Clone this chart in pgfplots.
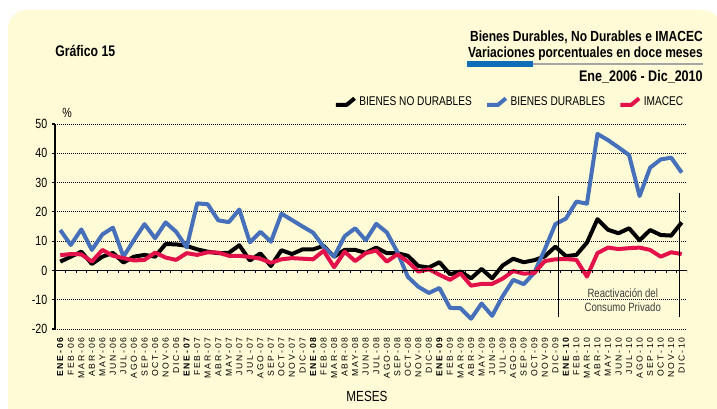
\documentclass[border=0pt]{standalone}
\usepackage{fontspec}
\setmainfont{Liberation Sans}
\newfontfamily\cond[FakeStretch=0.8]{Liberation Sans}
\newfontfamily\condt[FakeStretch=0.82]{Liberation Sans}
\newfontfamily\mfont[LetterSpace=20]{Liberation Sans}
\usepackage{pgfplots}
\pgfplotsset{compat=1.18}
\definecolor{bgyellow}{HTML}{FFFBD7}
\definecolor{durable}{HTML}{4670B9}
\definecolor{imacec}{HTML}{E3124B}
\definecolor{barblue}{HTML}{0F6CB6}

% i = month index (0 = Ene 2006), nd = no durables, d = durables, im = IMACEC
\pgfplotstableread{
i nd d im
0 3.0 13.8 5.2
1 4.7 8.7 5.6
2 6.4 14.0 5.5
3 2.2 7.0 3.0
4 4.7 12.3 7.0
5 6.0 14.6 5.0
6 2.7 4.7 4.2
7 4.7 10.4 3.4
8 5.3 15.8 3.6
9 4.7 11.0 6.1
10 9.0 16.4 4.4
11 8.9 13.2 3.6
12 8.4 7.9 5.9
13 7.2 22.9 5.3
14 6.4 22.6 6.2
15 5.9 17.1 6.1
16 6.0 16.5 5.0
17 8.6 20.8 5.0
18 3.4 9.6 4.6
19 5.8 13.2 4.0
20 1.5 9.8 2.6
21 6.9 19.4 3.8
22 5.6 17.2 4.2
23 7.2 15.0 4.0
24 7.2 12.9 3.8
25 8.4 8.1 6.7
26 4.7 4.7 1.1
27 7.0 11.7 6.4
28 7.0 14.4 3.2
29 6.0 10.3 5.9
30 7.8 15.9 6.8
31 5.9 13.0 3.0
32 5.9 6.3 5.5
33 5.0 -2.2 3.0
34 1.5 -5.6 -0.4
35 1.0 -7.7 0.4
36 2.8 -6.0 -1.5
37 -1.3 -12.8 -3.2
38 -0.4 -12.9 -1.0
39 -2.7 -16.5 -5.2
40 0.5 -11.3 -4.6
41 -2.7 -15.5 -4.6
42 1.7 -8.8 -2.8
43 4.0 -3.2 -0.2
44 2.8 -4.7 -1.1
45 3.5 -0.8 -0.9
46 4.8 7.2 3.2
47 8.1 15.8 3.8
48 4.9 17.7 3.9
49 5.3 23.5 3.6
50 9.5 22.8 -2.1
51 17.5 46.6 5.9
52 13.9 44.5 7.8
53 12.7 42.0 7.3
54 14.4 39.4 7.6
55 10.3 25.4 7.8
56 13.8 35.1 7.0
57 12.1 37.9 4.7
58 11.9 38.5 6.2
59 16.4 33.4 5.6
}\datatable

\begin{document}
\begin{tikzpicture}
\useasboundingbox (0,0) rectangle (537.75pt,306pt);
\begin{scope}
\clip (0,0) rectangle (537.75pt,306pt);
\fill[bgyellow, rounded corners=14pt] (6pt,-20pt) rectangle (541pt,298.5pt);
\end{scope}

% heading
\node[anchor=base west, inner sep=0pt, font=\cond\bfseries\fontsize{11.5}{13}\selectfont] at (41.25pt,263.25pt) {Gráfico 15};
\node[anchor=base east, inner sep=0pt, font=\condt\bfseries\fontsize{11}{13}\selectfont] at (527.25pt,274.5pt) {Bienes Durables, No Durables e IMACEC};
\node[anchor=base east, inner sep=0pt, font=\condt\bfseries\fontsize{11}{13}\selectfont] at (527.25pt,262.5pt) {Variaciones porcentuales en doce meses};
\draw[gray!70, line width=1.5pt] (350.25pt,258pt) -- (527.25pt,258pt);
\fill[barblue] (350.25pt,255.75pt) rectangle (399.75pt,259.9pt);
\node[anchor=base east, inner sep=0pt, font=\condt\bfseries\fontsize{11.5}{13}\selectfont] at (527.25pt,245.25pt) {Ene\_2006 - Dic\_2010};

\node[font=\cond\fontsize{10}{12}\selectfont] at (50.25pt,221.25pt) {\%};
\node[font=\cond\fontsize{11}{13}\selectfont] at (275.25pt,9pt) {MESES};

\begin{axis}[
    at={(41.25pt,59.25pt)}, anchor=south west,
    width=474pt, height=153.75pt, scale only axis,
    xmin=-0.5, xmax=59.5, ymin=-20, ymax=50,
    axis lines*=left,
    x axis line style={draw=none},
    y axis line style={black, line width=0.8pt},
    ytick={-20,-10,0,10,20,30,40,50},
    yticklabels={-20,-10,0,10,20,30,40,50},
    yticklabel style={font=\cond\fontsize{10}{12}\selectfont},
    ytick style={black, line width=0.8pt},
    tick align=outside,
    major tick length=2.25pt,
    x tick style={draw=none},
    xtick={0,...,59},
    xticklabels={
      {\bfseries ENE-06},FEB-06,MAR-06,ABR-06,MAY-06,JUN-06,JUL-06,AGO-06,SEP-06,OCT-06,NOV-06,DIC-06,
      {\bfseries ENE-07},FEB-07,MAR-07,ABR-07,MAY-07,JUN-07,JUL-07,AGO-07,SEP-07,OCT-07,NOV-07,DIC-07,
      {\bfseries ENE-08},FEB-08,MAR-08,ABR-08,MAY-08,JUN-08,JUL-08,AGO-08,SEP-08,OCT-08,NOV-08,DIC-08,
      {\bfseries ENE-09},FEB-09,MAR-09,ABR-09,MAY-09,JUN-09,JUL-09,AGO-09,SEP-09,OCT-09,NOV-09,DIC-09,
      {\bfseries ENE-10},FEB-10,MAR-10,ABR-10,MAY-10,JUN-10,JUL-10,AGO-10,SEP-10,OCT-10,NOV-10,DIC-10},
    xticklabel style={font=\mfont\fontsize{6.5}{7.5}\selectfont, rotate=90, anchor=east, inner xsep=4pt},
    ymajorgrids=true,
    grid style={black, line width=0.6pt, dash pattern=on 0.75pt off 0.75pt},
    legend columns=3,
    legend style={draw=none, fill=none, at={(1.005,1)}, anchor=south east, yshift=8pt,
        font=\cond\fontsize{9.5}{11}\selectfont,
        /tikz/every even column/.append style={column sep=8pt}},
    legend image code/.code={\draw[#1] (0pt,-2pt) -- (8pt,-2pt) -- (14pt,3pt);},
    every axis plot/.append style={line width=3pt, line join=round},
]
\addplot[black] table[x=i, y=nd] {\datatable};
\addlegendentry{BIENES NO DURABLES}
\addplot[durable] table[x=i, y=d] {\datatable};
\addlegendentry{BIENES DURABLES}
\addplot[imacec] table[x=i, y=im] {\datatable};
\addlegendentry{IMACEC}

% zero line with ticks between months
\draw[black, line width=0.8pt] (axis cs:-0.5,0) -- (axis cs:59.5,0);
\pgfplotsinvokeforeach{0,...,60}{
  \draw[black, line width=0.6pt] (axis cs:{#1-0.5},0) -- ++(0pt,-2.25pt);
}

% reactivation period
\draw[black, line width=0.8pt] (axis cs:47.3,25.4) -- (axis cs:47.3,-15.9);
\draw[black, line width=0.8pt] (axis cs:58.8,26.5) -- (axis cs:58.8,-15.9);
\node[font=\cond\fontsize{9}{10.5}\selectfont, align=center, text=black!75] at (axis cs:53.4,-10) {Reactivación del\\Consumo Privado};
\end{axis}
\end{tikzpicture}
\end{document}
